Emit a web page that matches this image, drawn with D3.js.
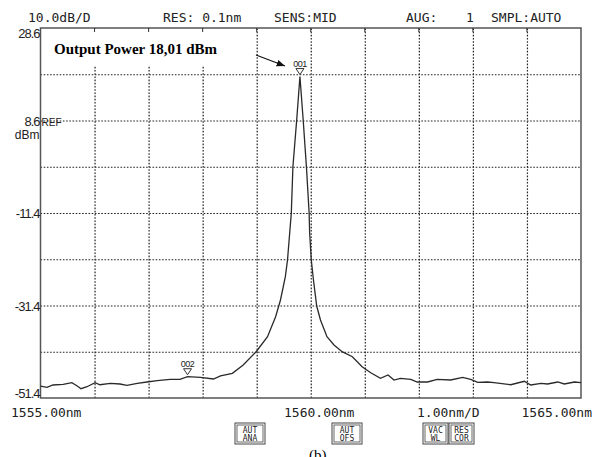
<!DOCTYPE html>
<html>
<head>
<meta charset="utf-8">
<script src="https://cdn.jsdelivr.net/npm/d3@7"></script>
<style>
  body { margin: 0; background: #fff; }
  svg { display: block; }
  .mono { font-family: "DejaVu Sans Mono", monospace; fill: #222; }
  .ylab { font-family: "Liberation Sans Narrow", "Liberation Sans", Arial, sans-serif; fill: #222; }
</style>
</head>
<body>
<script>
// trace, wavelength in nm, power in dBm
var wl = [1555.00, 1555.12, 1555.23, 1555.42, 1555.58, 1555.68, 1555.75, 1555.86, 1556.01, 1556.10,
  1556.29, 1556.47, 1556.60, 1556.79, 1556.97, 1557.16, 1557.40, 1557.58, 1557.72, 1557.96,
  1558.20, 1558.33, 1558.55, 1558.75, 1558.99, 1559.20, 1559.35, 1559.44, 1559.53, 1559.57,
  1559.61, 1559.64, 1559.67, 1559.74, 1559.80, 1559.86, 1559.92, 1559.97, 1559.98, 1560.01,
  1560.05, 1560.11, 1560.18, 1560.30, 1560.43, 1560.58, 1560.77, 1560.95, 1561.11, 1561.29,
  1561.43, 1561.54, 1561.66, 1561.85, 1561.97, 1562.16, 1562.34, 1562.59, 1562.81, 1562.96,
  1563.09, 1563.27, 1563.39, 1563.70, 1563.95, 1564.07, 1564.26, 1564.38, 1564.57, 1564.69,
  1564.88, 1565.00];
var pw = [-48.81, -49.09, -48.59, -48.44, -48.09, -48.81, -49.39, -48.96, -48.09, -48.53,
  -48.22, -48.37, -48.65, -48.22, -47.94, -47.66, -47.36, -47.36, -46.80, -46.93,
  -47.29, -46.64, -46.06, -44.27, -41.39, -38.15, -33.82, -30.21, -25.17, -21.56,
  -15.79, -11.47, -1.39, 8.71, 18.10, 8.71, -1.39, -11.40, -15.72, -21.56,
  -25.89, -31.51, -34.54, -38.15, -39.94, -41.39, -42.47, -44.63, -45.93, -47.14,
  -46.43, -47.51, -47.14, -47.36, -47.94, -47.94, -47.36, -47.51, -46.93, -47.36,
  -48.01, -47.94, -48.09, -48.53, -47.79, -48.59, -48.22, -48.37, -47.94, -48.37,
  -47.94, -48.09];

var yTicks = [28.6, 8.6, -11.4, -31.4, -51.4];
var yTickText = ["28.6", "8.6", "-11.4", "-31.4", "-51.4"];
var xTicks = [1555, 1560, 1565];
var xTickText = ["1555.00nm", "1560.00nm", "1565.00nm"];
var header = ["10.0dB/D", "RES: 0.1nm", "SENS:MID", "AUG:", "1", "SMPL:AUTO"];
var headerX = [28, 163, 274, 406, 466, 491];
var markers = [{ name: "001", wl: 1559.80, p: 18.10 }, { name: "002", wl: 1557.72, p: -46.80 }];
var buttons = [["AUT", "ANA"], ["AUT", "OFS"], ["VAC", "WL"], ["RES", "COR"]];
var buttonX = [235, 332, 423, 449];

var w = 596, h = 457;
var padL = 40.5, padR = 581, padT = 28, padB = 398;

var svg = d3.select("body").append("svg")
  .attr("width", w)
  .attr("height", h);

var x = d3.scaleLinear().domain([1555, 1565]).range([padL, padR]);
var y = d3.scaleLinear().domain([-51.4, 28.6]).range([padB, padT]);

// dotted grid
var gridX = d3.axisBottom(x).tickValues(d3.range(1556, 1565, 1)).tickSize(-(padB - padT)).tickFormat("");
var gridY = d3.axisLeft(y).tickValues(d3.range(1, 8).map(i => -51.4 + i * 10)).tickSize(-(padR - padL)).tickFormat("");

svg.append("g")
  .attr("transform", "translate(0," + padB + ")")
  .call(gridX)
  .call(g => g.select(".domain").remove())
  .selectAll("line")
  .attr("stroke", "#222")
  .attr("stroke-width", 1.2)
  .attr("stroke-dasharray", "1.6,1.6");

svg.append("g")
  .attr("transform", "translate(" + padL + ",0)")
  .call(gridY)
  .call(g => g.select(".domain").remove())
  .selectAll("line")
  .attr("stroke", "#222")
  .attr("stroke-width", 1.2)
  .attr("stroke-dasharray", "1.6,1.6");

// white box behind the note
svg.append("rect")
  .attr("x", padL + 1).attr("y", padT + 1)
  .attr("width", 210).attr("height", 37)
  .attr("fill", "#fff");

// frame
svg.append("rect")
  .attr("x", padL).attr("y", padT)
  .attr("width", padR - padL).attr("height", padB - padT)
  .attr("fill", "none")
  .attr("stroke", "#555")
  .attr("stroke-width", 1.5);

// short tick marks on top edge
svg.append("g").selectAll("line")
  .data(d3.range(1556, 1565, 1))
  .enter().append("line")
  .attr("x1", d => x(d)).attr("x2", d => x(d))
  .attr("y1", padT).attr("y2", padT + 4)
  .attr("stroke", "#333");

// trace
var line = d3.line()
  .x((d, i) => x(wl[i]))
  .y((d, i) => y(pw[i]));

svg.append("path")
  .datum(pw)
  .attr("d", line)
  .attr("fill", "none")
  .attr("stroke", "#2a2a2a")
  .attr("stroke-width", 1.3);

// markers
var mk = svg.append("g").selectAll("g")
  .data(markers)
  .enter().append("g")
  .attr("transform", d => "translate(" + x(d.wl) + "," + (y(d.p) - 2) + ")");

mk.append("path")
  .attr("d", "M-4,-6 L4,-6 L0,0 Z")
  .attr("fill", "#fff")
  .attr("stroke", "#333");

mk.append("text")
  .attr("y", -8)
  .attr("text-anchor", "middle")
  .attr("class", "ylab")
  .style("font-size", "9px")
  .style("letter-spacing", "-0.5px")
  .text(d => d.name);

// header
svg.append("g").selectAll("text")
  .data(header)
  .enter().append("text")
  .attr("class", "mono")
  .attr("x", (d, i) => headerX[i])
  .attr("y", 22)
  .style("font-size", "13px")
  .text(d => d);

// y labels
svg.append("g").selectAll("text")
  .data(yTicks)
  .enter().append("text")
  .attr("class", "ylab")
  .attr("x", padL - 1)
  .attr("y", (d, i) => y(d) + (i === 0 ? 10 : i === yTicks.length - 1 ? 0 : 5))
  .attr("text-anchor", "end")
  .style("font-size", "13px")
  .style("letter-spacing", "-1px")
  .text((d, i) => yTickText[i]);

svg.append("text")
  .attr("class", "ylab")
  .attr("x", padL + 1).attr("y", y(8.6) + 5)
  .style("font-size", "10px")
  .text("REF");

svg.append("text")
  .attr("class", "ylab")
  .attr("x", padL - 1).attr("y", y(8.6) + 18)
  .attr("text-anchor", "end")
  .style("font-size", "12px")
  .text("dBm");

// x labels
svg.append("g").selectAll("text")
  .data(xTicks)
  .enter().append("text")
  .attr("class", "mono")
  .attr("x", (d, i) => i === 0 ? 11 : i === 1 ? 284 : 592)
  .attr("y", 417)
  .attr("text-anchor", (d, i) => i === 2 ? "end" : "start")
  .style("font-size", "13px")
  .text((d, i) => xTickText[i]);

svg.append("text")
  .attr("class", "mono")
  .attr("x", 417).attr("y", 417)
  .style("font-size", "13px")
  .text("1.00nm/D");

// soft keys
var bt = svg.append("g").selectAll("g")
  .data(buttons)
  .enter().append("g")
  .attr("transform", (d, i) => "translate(" + buttonX[i] + ",423)");

bt.append("rect")
  .attr("width", (d, i) => i >= 2 ? 25 : 30).attr("height", 21)
  .attr("fill", "#fff").attr("stroke", "#444").attr("stroke-width", 1);
bt.append("rect")
  .attr("x", 2).attr("y", 2)
  .attr("width", (d, i) => i >= 2 ? 21 : 26).attr("height", 17)
  .attr("fill", "none").attr("stroke", "#444").attr("stroke-width", 0.8);
bt.append("text")
  .attr("class", "mono")
  .attr("x", (d, i) => i >= 2 ? 12.5 : 15).attr("y", 10)
  .attr("text-anchor", "middle")
  .style("font-size", "8px")
  .text(d => d[0]);
bt.append("text")
  .attr("class", "mono")
  .attr("x", (d, i) => i >= 2 ? 12.5 : 15).attr("y", 18)
  .attr("text-anchor", "middle")
  .style("font-size", "8px")
  .text(d => d[1]);

// note and arrow
svg.append("text")
  .attr("x", 54).attr("y", 54)
  .style("font-family", "'Liberation Serif', 'Times New Roman', serif")
  .style("font-weight", "bold")
  .style("font-size", "15px")
  .text("Output Power 18,01 dBm");

svg.append("defs").append("marker")
  .attr("id", "arr")
  .attr("viewBox", "0 0 10 10")
  .attr("refX", 10).attr("refY", 5)
  .attr("markerWidth", 7).attr("markerHeight", 7)
  .attr("orient", "auto")
  .append("path")
  .attr("d", "M0,1 L10,5 L0,9 Z")
  .attr("fill", "#111");

svg.append("line")
  .attr("x1", 256).attr("y1", 55)
  .attr("x2", 285).attr("y2", 66)
  .attr("stroke", "#111").attr("stroke-width", 1.2)
  .attr("marker-end", "url(#arr)");

// caption, cut by the bottom edge as in the source
svg.append("text")
  .attr("x", 309).attr("y", 460)
  .style("font-family", "'Liberation Serif', serif")
  .style("font-size", "15px")
  .text("(b)");
</script>
</body>
</html>
